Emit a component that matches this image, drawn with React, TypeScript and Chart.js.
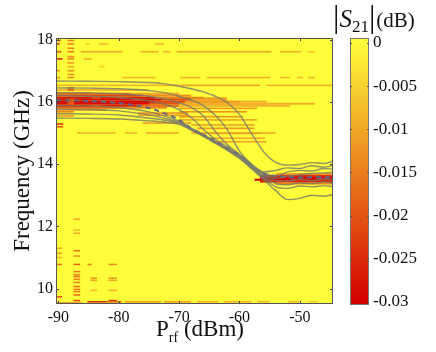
import React, { useEffect, useRef } from "react";
import { Chart, registerables } from "chart.js";
Chart.register(...registerables);

const SERIF = "'Liberation Serif', 'DejaVu Serif', serif";

// Axis ticks
const xTicks = [-90, -80, -70, -60, -50];
const yTicks = [10, 12, 14, 16, 18];
const cbTicks = [0, -0.005, -0.01, -0.015, -0.02, -0.025, -0.03];
const cbTickLabels = ["0", "-0.005", "-0.01", "-0.015", "-0.02", "-0.025", "-0.03"];

// Traced resonance curves (frequency in GHz vs Prf in dBm)
const powerGrid = [-90.4, -85, -80, -75, -72, -70, -68, -66, -64, -62, -60, -58, -56, -54, -52, -50, -48, -46, -44.5];
const curve1 = [16.67, 16.66, 16.65, 16.62, 16.57, 16.5, 16.42, 16.32, 16.18, 15.97, 15.6, 14.98, 14.4, 14.06, 13.97, 13.99, 14.05, 14.02, 14.1];
const curve2 = [16.45, 16.44, 16.42, 16.36, 16.28, 16.18, 16.06, 15.88, 15.57, 15.1, 14.42, 14.0, 13.75, 13.8, 13.88, 13.86, 13.95, 13.9, 13.96];
const curve3 = [16.3, 16.29, 16.26, 16.18, 16.08, 15.97, 15.82, 15.55, 15.05, 14.62, 14.32, 13.98, 13.72, 13.62, 13.75, 13.8, 13.78, 13.86, 13.84];
const curve4 = [16.2, 16.18, 16.14, 16.03, 15.9, 15.75, 15.5, 15.12, 14.8, 14.56, 14.3, 13.96, 13.68, 13.55, 13.62, 13.66, 13.7, 13.72, 13.74];
const curve5 = [15.88, 15.87, 15.82, 15.68, 15.52, 15.38, 15.16, 14.96, 14.73, 14.5, 14.26, 13.95, 13.63, 13.48, 13.46, 13.52, 13.47, 13.53, 13.5];
const curve6 = [15.76, 15.75, 15.71, 15.58, 15.45, 15.35, 15.13, 14.93, 14.71, 14.48, 14.24, 13.92, 13.6, 13.38, 13.34, 13.4, 13.37, 13.43, 13.4];
const curve7 = [15.62, 15.61, 15.58, 15.48, 15.4, 15.32, 15.11, 14.91, 14.69, 14.46, 14.21, 13.88, 13.55, 13.28, 13.22, 13.3, 13.27, 13.31, 13.28];
const curve8 = [15.48, 15.47, 15.45, 15.39, 15.34, 15.28, 15.09, 14.89, 14.67, 14.44, 14.18, 13.85, 13.5, 13.15, 12.86, 12.9, 13.0, 12.97, 13.02];
const meanCurve = [16.05, 16.03, 15.96, 15.8, 15.6, 15.42, 15.15, 14.95, 14.74, 14.51, 14.28, 13.97, 13.7, 13.62, 13.58, 13.57, 13.58, 13.58, 13.58];

// Heat-map streaks: [frequency GHz, Prf start, Prf end, |S21| dB]
const lowPowerBand: number[][] = [
  [16.26, -90.4, -78, -0.017], [16.26, -78, -70, -0.01],
  [16.2, -90.4, -76, -0.022], [16.2, -76, -68, -0.013],
  [16.13, -90.4, -74, -0.027], [16.13, -74, -66, -0.015],
  [16.07, -90.4, -73, -0.029], [16.07, -73, -68, -0.021], [16.07, -68, -62, -0.011],
  [16.0, -90.4, -74, -0.03], [16.0, -74, -69, -0.022], [16.0, -69, -60, -0.012],
  [15.94, -90.4, -75, -0.029], [15.94, -75, -70, -0.02], [15.94, -70, -47.5, -0.009],
  [15.87, -90.4, -77, -0.026], [15.87, -77, -70, -0.017], [15.87, -70, -51.6, -0.008],
  [15.81, -90.4, -80, -0.018], [15.81, -80, -72, -0.013],
  [16.07, -88.5, -87.4, -0.019], [16.0, -88.5, -87.4, -0.02], [15.94, -88.5, -87.4, -0.019],
  [16.13, -84.5, -83, -0.021], [15.87, -84.5, -83, -0.019],
];
const midStreaks: number[][] = [
  [16.12, -69.8, -62.1, -0.012], [16.01, -69.8, -55.5, -0.011], [15.9, -69.8, -55.5, -0.012],
  [15.79, -70, -57.1, -0.012], [15.68, -70, -58.8, -0.013], [15.52, -70, -59.4, -0.012],
  [15.42, -70, -57.1, -0.011], [15.26, -68, -57.5, -0.011], [15.15, -67, -57.5, -0.012],
  [14.99, -66, -56.3, -0.011], [14.83, -65, -55.8, -0.01], [14.72, -64.4, -55.5, -0.011],
  [15.64, -76.8, -68.5, -0.013], [15.57, -76.8, -68.5, -0.012], [15.32, -76, -68, -0.012],
  [15.0, -86.9, -80.5, -0.009], [15.0, -79, -77, -0.009], [15.0, -75.5, -70, -0.01],
  [15.74, -90.4, -82, -0.012], [15.68, -90.4, -87.4, -0.015], [15.55, -90.4, -87.4, -0.012],
  [15.29, -90.4, -89.2, -0.025], [15.2, -90.4, -89.2, -0.02],
  [16.38, -90.4, -75, -0.01], [16.38, -88.5, -87.4, -0.02], [16.45, -88.5, -87.4, -0.016],
];
const highPowerBand: number[][] = [
  [13.68, -54, -44.5, -0.012], [13.62, -56.6, -44.5, -0.024], [13.56, -56.6, -44.5, -0.03],
  [13.5, -57.5, -44.5, -0.03], [13.44, -56.6, -44.5, -0.026], [13.38, -54, -44.5, -0.014],
];
const upperStreaks: number[][] = [
  [17.97, -90.4, -89.6, -0.02], [17.97, -88.5, -87.4, -0.014],
  [17.86, -90.4, -89.8, -0.025], [17.86, -88.5, -87.4, -0.015], [17.86, -85.5, -84.8, -0.006], [17.86, -83.3, -81.7, -0.008], [17.86, -74, -72.5, -0.008],
  [17.72, -88.5, -87.4, -0.014],
  [17.61, -90.4, -89.5, -0.02], [17.61, -88.5, -87.4, -0.016], [17.61, -86.3, -79.4, -0.01], [17.61, -76.4, -73.4, -0.009], [17.61, -72.6, -71.5, -0.009], [17.61, -70.4, -54.7, -0.01], [17.61, -53.3, -49.7, -0.009], [17.61, -48.7, -47.5, -0.007],
  [17.45, -88.5, -87.4, -0.013],
  [17.38, -90.4, -89.3, -0.025], [17.38, -88.5, -87.4, -0.014], [17.38, -85.8, -84.5, -0.009],
  [17.25, -88.5, -87.4, -0.012],
  [17.13, -83.3, -82.3, -0.006], [17.13, -88.5, -87.4, -0.01],
  [17.0, -88.5, -87.4, -0.013], [17.0, -90.4, -89.8, -0.015],
  [16.88, -88.5, -87.4, -0.012],
  [16.78, -90.4, -89.7, -0.012], [16.78, -88.5, -87.4, -0.014], [16.78, -79.5, -73.9, -0.008], [16.78, -69.8, -66.5, -0.009], [16.78, -65.4, -54.9, -0.009], [16.78, -53.3, -51.6, -0.008], [16.78, -50.5, -49.5, -0.008], [16.78, -48.7, -47.5, -0.008],
  [16.53, -90.4, -70, -0.009], [16.53, -69.8, -56.6, -0.011], [16.53, -55.5, -44.5, -0.009],
  [15.0, -68, -54, -0.01],
];
const lowerStreaks: number[][] = [
  [12.23, -87.5, -86.4, -0.01], [11.88, -87.5, -86.4, -0.008], [11.78, -87.5, -86.4, -0.01],
  [11.22, -87.5, -86.4, -0.016], [11.05, -87.5, -86.4, -0.012], [10.78, -87.5, -86.4, -0.018],
  [10.55, -87.5, -86.4, -0.015], [10.45, -87.5, -86.4, -0.013], [10.39, -87.5, -86.4, -0.016],
  [10.3, -87.5, -86.4, -0.014], [10.2, -87.5, -86.4, -0.013], [10.07, -87.5, -86.4, -0.016],
  [9.98, -87.5, -86.4, -0.014], [9.91, -87.5, -86.4, -0.016], [9.8, -87.5, -86.4, -0.018],
  [9.62, -87.5, -86.4, -0.022],
  [11.3, -90.4, -89.4, -0.01], [11.14, -90.4, -89.4, -0.012], [11.0, -90.4, -89.4, -0.008],
  [10.78, -90.4, -89.4, -0.016], [9.74, -90.4, -89.4, -0.02],
  [10.78, -85.2, -84.5, -0.015], [10.34, -84.7, -83.6, -0.012], [10.27, -84.7, -83.6, -0.01], [9.95, -84.7, -83.6, -0.008],
  [10.78, -81.7, -80.3, -0.014], [10.34, -81.7, -80.3, -0.012], [10.27, -81.7, -80.3, -0.01], [9.95, -81.7, -80.3, -0.009], [9.62, -81.7, -80.3, -0.022],
  [9.58, -85.2, -82, -0.025], [9.58, -82, -79.5, -0.018], [9.58, -79, -73, -0.011], [9.58, -72.5, -68, -0.011],
  [9.58, -67, -63.5, -0.009], [9.58, -62.5, -58, -0.009], [9.58, -57, -55, -0.008], [9.58, -52, -50, -0.008], [9.58, -48.5, -47, -0.006],
  [9.55, -90.4, -86, -0.01],
];

const BAND_H = 0.065;
const DASH_H = 0.05;
const CB_MIN = -0.03;

function colorFor(v: number) {
  const t = Math.max(0, Math.min(1, v / CB_MIN));
  const r = Math.round(255 - 43 * t);
  const g = Math.round(252 * (1 - t));
  const b = Math.round(58 * (1 - t));
  return `rgb(${r},${g},${b})`;
}

const heatmapPlugin = {
  id: "heatmap",
  beforeDatasetsDraw(chart: any) {
    const { ctx, chartArea: a, scales } = chart;
    const xs = scales.x, ys = scales.y;
    ctx.save();
    ctx.beginPath();
    ctx.rect(a.left, a.top, a.right - a.left, a.bottom - a.top);
    ctx.clip();
    ctx.fillStyle = colorFor(0);
    ctx.fillRect(a.left, a.top, a.right - a.left, a.bottom - a.top);
    const groups: [number[][], number][] = [
      [upperStreaks, DASH_H], [lowerStreaks, DASH_H], [midStreaks, DASH_H], [lowPowerBand, BAND_H], [highPowerBand, BAND_H],
    ];
    for (const [g, h] of groups) {
      for (const [f, x0, x1, v] of g) {
        const px0 = xs.getPixelForValue(x0);
        const px1 = xs.getPixelForValue(x1);
        const py0 = ys.getPixelForValue(f + h / 2);
        const py1 = ys.getPixelForValue(f - h / 2);
        ctx.fillStyle = colorFor(v);
        ctx.fillRect(px0, py0, px1 - px0, py1 - py0);
      }
    }
    ctx.restore();
  },
  afterDatasetsDraw(chart: any) {
    const { ctx, chartArea: a, scales } = chart;
    ctx.save();
    ctx.strokeStyle = "#444";
    ctx.lineWidth = 1;
    for (const t of scales.x.ticks) {
      const p = Math.round(scales.x.getPixelForValue(t.value)) + 0.5;
      ctx.beginPath();
      ctx.moveTo(p, a.bottom); ctx.lineTo(p, a.bottom - 3);
      ctx.moveTo(p, a.top); ctx.lineTo(p, a.top + 3);
      ctx.stroke();
    }
    for (const t of scales.y.ticks) {
      const p = Math.round(scales.y.getPixelForValue(t.value)) + 0.5;
      ctx.beginPath();
      ctx.moveTo(a.left, p); ctx.lineTo(a.left + 3, p);
      ctx.moveTo(a.right, p); ctx.lineTo(a.right - 3, p);
      ctx.stroke();
    }
    ctx.strokeStyle = "#555";
    ctx.strokeRect(a.left + 0.5, a.top + 0.5, a.right - a.left - 1, a.bottom - a.top - 1);
    ctx.restore();
  },
};

const colorbarPlugin = {
  id: "colorbar",
  beforeDatasetsDraw(chart: any) {
    const { ctx, chartArea: a, scales } = chart;
    const ys = scales.y;
    const grad = ctx.createLinearGradient(0, ys.getPixelForValue(0), 0, ys.getPixelForValue(CB_MIN));
    for (let i = 0; i <= 10; i++) {
      grad.addColorStop(i / 10, colorFor((CB_MIN * i) / 10));
    }
    ctx.save();
    ctx.fillStyle = grad;
    ctx.fillRect(a.left, a.top, a.right - a.left, a.bottom - a.top);
    ctx.strokeStyle = "#777";
    ctx.lineWidth = 1;
    ctx.strokeRect(a.left + 0.5, a.top + 0.5, a.right - a.left - 1, a.bottom - a.top - 1);
    ctx.strokeStyle = "#555";
    for (const t of ys.ticks) {
      const p = Math.round(ys.getPixelForValue(t.value)) + 0.5;
      ctx.beginPath();
      ctx.moveTo(a.left, p); ctx.lineTo(a.left + 2, p);
      ctx.moveTo(a.right, p); ctx.lineTo(a.right - 2, p);
      ctx.stroke();
    }
    ctx.restore();
  },
};

function lineData(c: number[]) {
  return powerGrid.map((x, i) => ({ x, y: c[i] }));
}

export default function App() {
  const mainRef = useRef<HTMLCanvasElement>(null);
  const cbRef = useRef<HTMLCanvasElement>(null);

  useEffect(() => {
    const curves = [curve1, curve2, curve3, curve4, curve5, curve6, curve7, curve8];
    const datasets: any[] = curves.map((c) => ({
      data: lineData(c),
      borderColor: "rgba(118,120,108,0.8)",
      borderWidth: 1.4,
      pointRadius: 0,
      cubicInterpolationMode: "monotone",
      fill: false,
    }));
    datasets.push({
      data: lineData(meanCurve),
      borderColor: "rgb(92,102,138)",
      borderWidth: 2,
      borderDash: [5, 4],
      pointRadius: 0,
      cubicInterpolationMode: "monotone",
      fill: false,
    });
    const tickFont = { family: SERIF, size: 16 };
    const main = new Chart(mainRef.current as HTMLCanvasElement, {
      type: "line",
      data: { datasets },
      options: {
        responsive: false,
        animation: false,
        layout: { padding: { left: 0, right: 103, top: 38, bottom: 0 } },
        plugins: { legend: { display: false }, tooltip: { enabled: false } },
        scales: {
          x: {
            type: "linear",
            min: -90.4,
            max: -44.5,
            afterBuildTicks: (s: any) => { s.ticks = xTicks.map((v) => ({ value: v })); },
            afterFit: (s: any) => { s.height = 48; },
            grid: { display: false, drawTicks: false, tickLength: 0 },
            border: { display: false },
            ticks: { font: tickFont, color: "#111", padding: 4, maxRotation: 0, autoSkip: false },
          },
          y: {
            type: "linear",
            min: 9.51,
            max: 18.05,
            afterBuildTicks: (s: any) => { s.ticks = yTicks.map((v) => ({ value: v })); },
            afterFit: (s: any) => { s.width = 56; },
            grid: { display: false, drawTicks: false, tickLength: 0 },
            border: { display: false },
            ticks: { font: tickFont, color: "#111", padding: 3, autoSkip: false },
            title: {
              display: true,
              text: "Frequency (GHz)",
              font: { family: SERIF, size: 23 },
              color: "#111",
              padding: { top: 9, bottom: 0 },
            },
          },
        },
      } as any,
      plugins: [heatmapPlugin],
    });

    const cb = new Chart(cbRef.current as HTMLCanvasElement, {
      type: "line",
      data: { datasets: [] },
      options: {
        responsive: false,
        animation: false,
        layout: { padding: { left: 16, right: 0, top: 38, bottom: 47 } },
        plugins: { legend: { display: false }, tooltip: { enabled: false } },
        scales: {
          x: { type: "linear", display: false, min: 0, max: 1 },
          y: {
            type: "linear",
            position: "right",
            min: -0.03035,
            max: 0.00058,
            afterBuildTicks: (s: any) => { s.ticks = cbTicks.map((v) => ({ value: v })); },
            afterFit: (s: any) => { s.width = 67; },
            grid: { display: false, drawTicks: false, tickLength: 0 },
            border: { display: false },
            ticks: {
              font: { family: SERIF, size: 17 },
              color: "#111",
              padding: 4,
              autoSkip: false,
              callback: (v: number) => {
                const i = cbTicks.findIndex((t) => Math.abs(t - v) < 1e-9);
                return i >= 0 ? cbTickLabels[i] : "";
              },
            },
          },
        },
      } as any,
      plugins: [colorbarPlugin],
    });

    return () => {
      main.destroy();
      cb.destroy();
    };
  }, []);

  return (
    <div style={{ position: "fixed", left: 0, top: 0, width: 436, height: 352, background: "#fff", fontFamily: SERIF, color: "#111" }}>
      <canvas ref={mainRef} width={436} height={352} style={{ position: "absolute", left: 0, top: 0, width: 436, height: 352 }} />
      <canvas ref={cbRef} width={102} height={352} style={{ position: "absolute", left: 334, top: 0, width: 102, height: 352 }} />
      <div style={{ position: "absolute", left: 333, top: 0, whiteSpace: "nowrap", lineHeight: 1, display: "flex", alignItems: "baseline" }}>
        <span style={{ fontSize: 32, fontWeight: 300 }}>|</span>
        <span style={{ fontSize: 25, fontStyle: "italic" }}>S</span>
        <span style={{ fontSize: 17, position: "relative", top: 5 }}>21</span>
        <span style={{ fontSize: 32, fontWeight: 300 }}>|</span>
        <span style={{ fontSize: 21, marginLeft: 1 }}>(dB)</span>
      </div>
      <div style={{ position: "absolute", left: 100, width: 200, top: 317, textAlign: "center", whiteSpace: "nowrap", fontSize: 23, lineHeight: 1 }}>
        P<span style={{ fontSize: 14, position: "relative", top: 6 }}>rf</span> (dBm)
      </div>
    </div>
  );
}
